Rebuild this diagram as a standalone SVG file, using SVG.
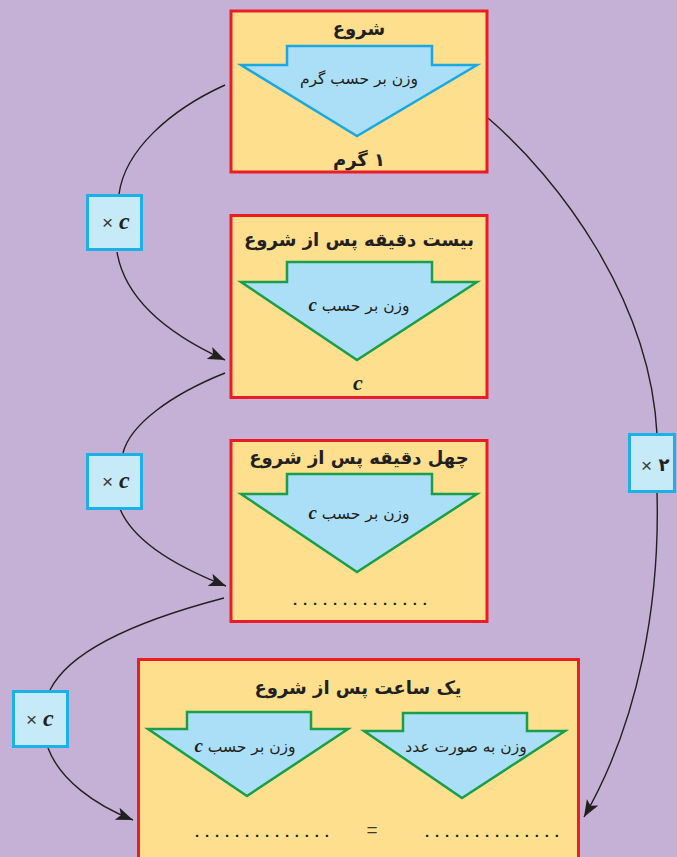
<svg xmlns="http://www.w3.org/2000/svg" width="677" height="857" viewBox="0 0 677 857">
<defs>
<marker id="ah" markerUnits="userSpaceOnUse" markerWidth="20" markerHeight="14" refX="17" refY="6.5" orient="auto">
<path d="M0,0 L17,6.5 L0,13 L4,6.5 z" fill="#231f20"/>
</marker>
<style>
.box{fill:#fedf8e;stroke:#ec1c24;stroke-width:3}
.mul{fill:#c6eaf8;stroke:#1cb0e8;stroke-width:3}
.arB{fill:#abdff8;stroke:#1ba8e0;stroke-width:2.5;stroke-linejoin:miter}
.arG{fill:#abdff8;stroke:#1a9e4a;stroke-width:2.5;stroke-linejoin:miter}
.ttl{font-family:"DejaVu Sans",sans-serif;font-weight:bold;font-size:18px;fill:#231f20;text-anchor:middle}
.lbl{font-family:"DejaVu Sans",sans-serif;font-size:15.5px;fill:#231f20;text-anchor:middle}
.ci{font-family:"Liberation Serif",serif;font-style:italic;font-weight:bold}
.x{font-family:"Liberation Sans",sans-serif;font-size:19px;fill:#3a3a3a}
.dots{font-family:"Liberation Sans",sans-serif;font-weight:bold;font-size:15px;fill:#231f20}
.con{fill:none;stroke:#231f20;stroke-width:1.4}
</style>
</defs>
<rect width="677" height="857" fill="#c5b0d6"/>

<g id="connectors">
<path class="con" d="M225,85 C170,110 125,150 119,194"/>
<path class="con" d="M117,252 C125,300 170,335 225,360" marker-end="url(#ah)"/>
<path class="con" d="M225,373 C170,395 130,425 123,453"/>
<path class="con" d="M120,509 C135,545 185,570 226,586" marker-end="url(#ah)"/>
<path class="con" d="M224,598 C140,620 70,650 50,690"/>
<path class="con" d="M48,748 C60,780 95,805 133,820" marker-end="url(#ah)"/>
<path class="con" d="M488,118 C560,180 650,300 657,434"/>
<path class="con" d="M657,492 C660,600 640,720 584,817" marker-end="url(#ah)"/>
</g>

<g id="node-start">
<rect class="box" x="231" y="11" width="256" height="161"/>
<text class="ttl" x="359" y="35" font-size="19" direction="rtl">شروع</text>
<polygon class="arB" points="241,65 287,65 287,46 432,46 432,65 477,65 357,136"/>
<text class="lbl" x="359" y="84" direction="rtl">وزن بر حسب گرم</text>
<text class="ttl" x="359" y="166" font-size="22" direction="rtl">۱ گرم</text>
</g>

<g id="node-20min">
<rect class="box" x="231" y="215.5" width="256" height="182"/>
<text class="ttl" x="359" y="246" direction="rtl">بیست دقیقه پس از شروع</text>
<polygon class="arG" points="241,282 287,282 287,262 432,262 432,282 477,282 357,360"/>
<text class="lbl" x="359" y="311" direction="rtl">وزن بر حسب <tspan class="ci" font-size="19">c</tspan></text>
<text class="ci" x="353" y="390" font-size="22" fill="#231f20">c</text>
</g>

<g id="node-40min">
<rect class="box" x="231" y="440.5" width="256" height="181"/>
<text class="ttl" x="359" y="464" direction="rtl">چهل دقیقه پس از شروع</text>
<polygon class="arG" points="241,494 287,494 287,474 432,474 432,494 477,494 357,572"/>
<text class="lbl" x="359" y="519" direction="rtl">وزن بر حسب <tspan class="ci" font-size="19">c</tspan></text>
<text class="dots" x="293" y="605" textLength="134" lengthAdjust="spacing">..............</text>
</g>

<g id="node-1hour">
<rect class="box" x="138.5" y="659.5" width="440" height="215"/>
<text class="ttl" x="358" y="694" direction="rtl">یک ساعت پس از شروع</text>
<polygon class="arG" points="148,729 187,729 187,712 311,712 311,729 348,729 247,796"/>
<text class="lbl" x="245" y="752" direction="rtl">وزن بر حسب <tspan class="ci" font-size="19">c</tspan></text>
<polygon class="arG" points="364,731 403,731 403,713 527,713 527,731 565,731 462,798"/>
<text class="lbl" x="466" y="752" direction="rtl">وزن به صورت عدد</text>
<text class="dots" x="195" y="837" textLength="134" lengthAdjust="spacing">..............</text>
<text class="x" x="372" y="836" font-size="14" text-anchor="middle">=</text>
<text class="dots" x="425" y="837" textLength="134" lengthAdjust="spacing">..............</text>
</g>

<g id="mul-a">
<rect class="mul" x="87.5" y="195.5" width="54" height="54"/>
<text class="x" x="102" y="229">×</text>
<text class="ci" x="119" y="229" font-size="24" fill="#231f20">c</text>
</g>
<g id="mul-b">
<rect class="mul" x="87.5" y="454.5" width="54" height="54"/>
<text class="x" x="102" y="488">×</text>
<text class="ci" x="119" y="488" font-size="24" fill="#231f20">c</text>
</g>
<g id="mul-c">
<rect class="mul" x="13.5" y="691.5" width="54" height="55"/>
<text class="x" x="26" y="726">×</text>
<text class="ci" x="43" y="726" font-size="24" fill="#231f20">c</text>
</g>
<g id="mul-d">
<rect class="mul" x="629.5" y="434.5" width="45" height="57"/>
<text class="x" x="641" y="472">×</text>
<text class="ttl" x="664" y="471" font-size="22">۲</text>
</g>
</svg>
